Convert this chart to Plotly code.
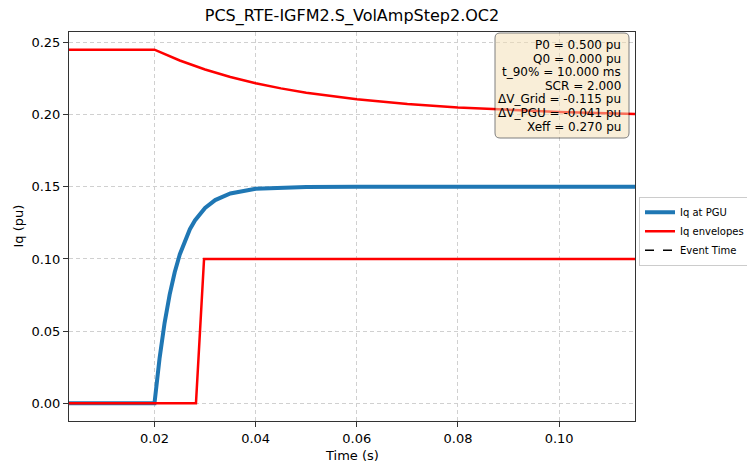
import plotly.graph_objects as go

# ---------------- data ----------------
t_pgu = [0.0031, 0.0100, 0.0200, 0.0210, 0.0220, 0.0230, 0.0240, 0.0250, 0.0260,
         0.0270, 0.0280, 0.0300, 0.0320, 0.0350, 0.0400, 0.0450, 0.0500, 0.0600,
         0.0800, 0.1000, 0.1150]
iq_pgu = [0.0000, 0.0000, 0.0000, 0.0311, 0.0558, 0.0753, 0.0908, 0.1031, 0.1128,
          0.1206, 0.1267, 0.1353, 0.1408, 0.1454, 0.1486, 0.1495, 0.1499, 0.1500,
          0.1500, 0.1500, 0.1500]

t_env_hi = [0.0031, 0.0200, 0.0250, 0.0300, 0.0350, 0.0400, 0.0450, 0.0500,
            0.0600, 0.0700, 0.0800, 0.0900, 0.1000, 0.1150]
iq_env_hi = [0.2450, 0.2450, 0.2375, 0.2313, 0.2261, 0.2218, 0.2182, 0.2152,
             0.2106, 0.2074, 0.2050, 0.2032, 0.2018, 0.2005]

t_env_lo = [0.0031, 0.0282, 0.0298, 0.1150]
iq_env_lo = [0.0000, 0.0000, 0.1000, 0.1000]

event_time = 0.0

x_ticks = [0.02, 0.04, 0.06, 0.08, 0.10]
x_tick_labels = ["0.02", "0.04", "0.06", "0.08", "0.10"]
y_ticks = [0.00, 0.05, 0.10, 0.15, 0.20, 0.25]
y_tick_labels = ["0.00", "0.05", "0.10", "0.15", "0.20", "0.25"]

info_lines = ["P0 = 0.500 pu", "Q0 = 0.000 pu", "t_90% = 10.000 ms", "SCR = 2.000",
              "ΔV_Grid = -0.115 pu", "ΔV_PGU = -0.041 pu", "Xeff = 0.270 pu"]

title = "PCS_RTE-IGFM2.S_VolAmpStep2.OC2"
x_range = [0.0031, 0.1150]
y_range = [-0.01225, 0.25725]

# ---------------- layout geometry ----------------
W, H = 747, 464
ML, MR, MT, MB = 69, 112, 32, 43
PW, PH = W - ML - MR, H - MT - MB
FONT = "DejaVu Sans, Verdana, sans-serif"

fig = go.Figure()
fig.add_trace(go.Scatter(x=t_pgu, y=iq_pgu, mode="lines", name="Iq at PGU",
                         line=dict(color="#1f77b4", width=4)))
fig.add_trace(go.Scatter(x=t_env_hi, y=iq_env_hi, mode="lines", name="Iq envelopes",
                         line=dict(color="#ff0000", width=2.5), legendgroup="env"))
fig.add_trace(go.Scatter(x=t_env_lo, y=iq_env_lo, mode="lines", name="Iq envelopes",
                         line=dict(color="#ff0000", width=2.5), legendgroup="env",
                         showlegend=False))
fig.add_trace(go.Scatter(x=[event_time, event_time], y=y_range, mode="lines",
                         name="Event Time",
                         line=dict(color="black", width=1.5, dash="dash")))

# info box (rounded rectangle)
bx0, bx1, by0, by1 = 495, 629, 33, 138
def px(x):
    return (x - ML) / PW
def py(y):
    return (H - MB - y) / PH
r = 5
path = (f"M {px(bx0 + r)},{py(by0)} L {px(bx1 - r)},{py(by0)} "
        f"Q {px(bx1)},{py(by0)} {px(bx1)},{py(by0 + r)} "
        f"L {px(bx1)},{py(by1 - r)} Q {px(bx1)},{py(by1)} {px(bx1 - r)},{py(by1)} "
        f"L {px(bx0 + r)},{py(by1)} Q {px(bx0)},{py(by1)} {px(bx0)},{py(by1 - r)} "
        f"L {px(bx0)},{py(by0 + r)} Q {px(bx0)},{py(by0)} {px(bx0 + r)},{py(by0)} Z")
fig.add_shape(type="path", path=path, xref="paper", yref="paper",
              fillcolor="wheat", line=dict(color="black", width=1),
              opacity=0.5, layer="above")

for i, s in enumerate(info_lines):
    fig.add_annotation(text=s, xref="paper", yref="paper", x=1, y=1,
                       xanchor="right", yanchor="middle", showarrow=False,
                       xshift=-12, yshift=-(13 + 13.6 * i),
                       font=dict(family=FONT, size=12, color="black"))

# axis titles
fig.add_annotation(text="Time (s)", xref="paper", yref="paper", x=0.5, y=0,
                   xanchor="center", yanchor="middle", yshift=-34, showarrow=False,
                   font=dict(family=FONT, size=13, color="black"))
fig.add_annotation(text="Iq (pu)", xref="paper", yref="paper", x=0, y=0.5,
                   xanchor="center", yanchor="middle", xshift=-51, textangle=-90,
                   showarrow=False, font=dict(family=FONT, size=13, color="black"))

axis_common = dict(showline=True, linecolor="#333333", linewidth=1, mirror=True,
                   ticks="outside", ticklen=5, tickwidth=1, tickcolor="#333333",
                   showgrid=True, gridcolor="#d0d0d0", gridwidth=1, griddash="4px,3px",
                   zeroline=False, tickfont=dict(family=FONT, size=13, color="black"))

fig.update_layout(
    width=W, height=H,
    margin=dict(l=ML, r=MR, t=MT, b=MB, autoexpand=False),
    paper_bgcolor="white", plot_bgcolor="white",
    font=dict(family=FONT, color="black"),
    title=dict(text=title, x=(ML + PW / 2) / W, xanchor="center",
               y=1 - 15 / H, yanchor="middle", yref="container",
               font=dict(family=FONT, size=16, color="black")),
    xaxis=dict(range=x_range, tickvals=x_ticks, ticktext=x_tick_labels, **axis_common),
    yaxis=dict(range=y_range, tickvals=y_ticks, ticktext=y_tick_labels, **axis_common),
    legend=dict(x=px(639), xanchor="left", y=0.488, yanchor="middle",
                bordercolor="#cccccc", borderwidth=1, bgcolor="white",
                font=dict(family=FONT, size=10, color="black"),
                tracegroupgap=0, itemwidth=30),
    showlegend=True,
)

fig.write_html("out.html")
